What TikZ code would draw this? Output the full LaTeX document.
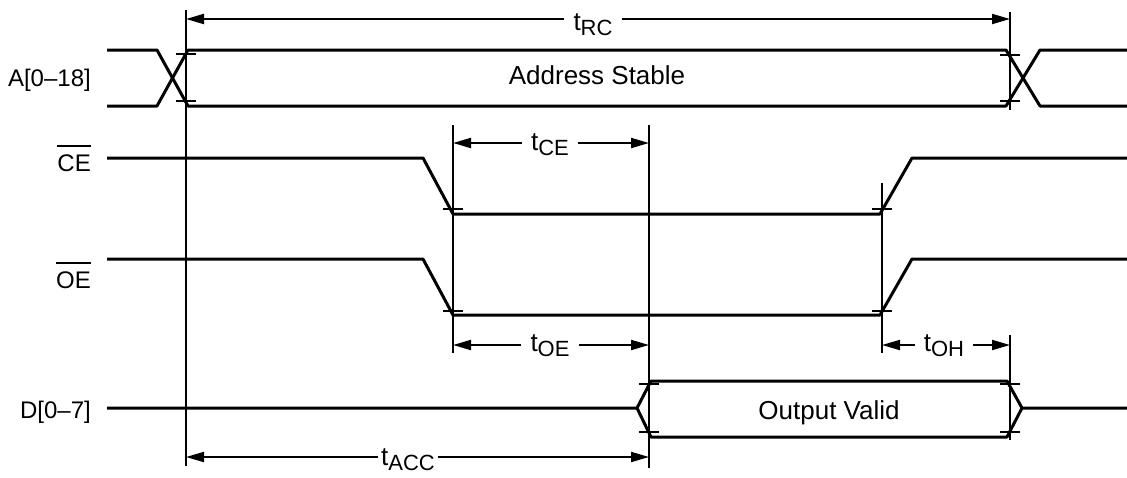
\documentclass[tikz,border=0pt]{standalone}
\usepackage{fontspec}
\setmainfont{Liberation Sans}
\usetikzlibrary{arrows.meta}
\newcommand{\tsub}[2]{{\fontsize{26}{26}\selectfont #1}\raisebox{-5pt}{\fontsize{22}{22}\selectfont #2}}
\begin{document}
\begin{tikzpicture}[x=1pt,y=-1pt,
  sig/.style={line width=3pt, line join=round},
  guide/.style={line width=2pt},
  tickmark/.style={line width=2pt},
  bar/.style={line width=2pt},
  dim/.style={line width=2pt, -{Triangle[length=18pt,width=10pt]}},
  lbl/.style={font=\fontsize{24}{24}\selectfont, inner sep=0pt},
  txt/.style={font=\fontsize{26}{26}\selectfont, inner sep=0pt},
  tlbl/.style={inner ysep=0pt, inner xsep=9pt}]
\useasboundingbox (0,0) rectangle (1127,477);

% signal names
\node[lbl, anchor=base east] (la) at (91,86) {A[0–18]};
\node[lbl, anchor=base east] (lce) at (91,171) {CE};
\node[lbl, anchor=base east] (loe) at (91,288) {OE};
\node[lbl, anchor=base east] (ld) at (91,418) {D[0–7]};
\draw[bar] ([yshift=8pt]lce.north west) -- ([yshift=8pt]lce.north east);
\draw[bar] ([yshift=8pt]loe.north west) -- ([yshift=8pt]loe.north east);

% guide lines
\draw[guide] (186,10) -- (186,466);
\draw[guide] (1010,12) -- (1010,110);
\draw[guide] (453,125) -- (453,353);
\draw[guide] (649,125) -- (649,468);
\draw[guide] (882,183) -- (882,353);
\draw[guide] (1010,335) -- (1010,440);

% address bus
\draw[sig] (107,50) -- (157,50) -- (188,106) -- (1006,106) -- (1040,50) -- (1127,50);
\draw[sig] (107,106) -- (157,106) -- (188,50) -- (1006,50) -- (1040,106) -- (1127,106);
\node[txt, anchor=base] (as) at (597,84) {Address Stable};
\draw[tickmark] (176,54) -- (196,54);
\draw[tickmark] (176,101) -- (196,101);
\draw[tickmark] (1000,55) -- (1020,55);
\draw[tickmark] (1000,101) -- (1020,101);

% CE
\draw[sig] (107,158) -- (423,158) -- (453,214) -- (880,214) -- (912,158) -- (1127,158);
\draw[tickmark] (443,209) -- (463,209);
\draw[tickmark] (872,209) -- (892,209);

% OE
\draw[sig] (107,259) -- (423,259) -- (453,315) -- (880,315) -- (912,259) -- (1127,259);
\draw[tickmark] (443,311) -- (463,311);
\draw[tickmark] (872,311) -- (892,311);

% data bus
\draw[sig] (107,408) -- (637,408) -- (651,381) -- (1007,381) -- (1022,408) -- (1127,408);
\draw[sig] (637,408) -- (651,437) -- (1007,437) -- (1022,408);
\node[txt, anchor=base] (ov) at (829,419) {Output Valid};
\draw[tickmark] (639,384) -- (659,384);
\draw[tickmark] (639,432) -- (659,432);
\draw[tickmark] (1000,384) -- (1020,384);
\draw[tickmark] (1000,432) -- (1020,432);

% dimensions
\coordinate (rcL) at (186,19); \coordinate (rcR) at (1010,19);
\node[tlbl, anchor=base] (trc) at (593,30) {\tsub{t}{RC}};
\draw[dim] (trc.west |- rcL) -- (rcL);
\draw[dim] (trc.east |- rcR) -- (rcR);

\coordinate (ceL) at (453,143); \coordinate (ceR) at (649,143);
\node[tlbl, anchor=base] (tce) at (550,150) {\tsub{t}{CE}};
\draw[dim] (tce.west |- ceL) -- (ceL);
\draw[dim] (tce.east |- ceR) -- (ceR);

\coordinate (oeL) at (453,345); \coordinate (oeR) at (649,345);
\node[tlbl, anchor=base] (toe) at (550,351) {\tsub{t}{OE}};
\draw[dim] (toe.west |- oeL) -- (oeL);
\draw[dim] (toe.east |- oeR) -- (oeR);

\coordinate (ohL) at (882,345); \coordinate (ohR) at (1010,345);
\node[tlbl, anchor=base] (toh) at (944,351) {\tsub{t}{OH}};
\draw[dim] (toh.west |- ohL) -- (ohL);
\draw[dim] (toh.east |- ohR) -- (ohR);

\coordinate (acL) at (186,457); \coordinate (acR) at (649,457);
\node[tlbl, anchor=base, inner xsep=3pt] (tac) at (408,465) {\tsub{t}{ACC}};
\draw[dim] (tac.west |- acL) -- (acL);
\draw[dim] (tac.east |- acR) -- (acR);
\end{tikzpicture}
\end{document}
